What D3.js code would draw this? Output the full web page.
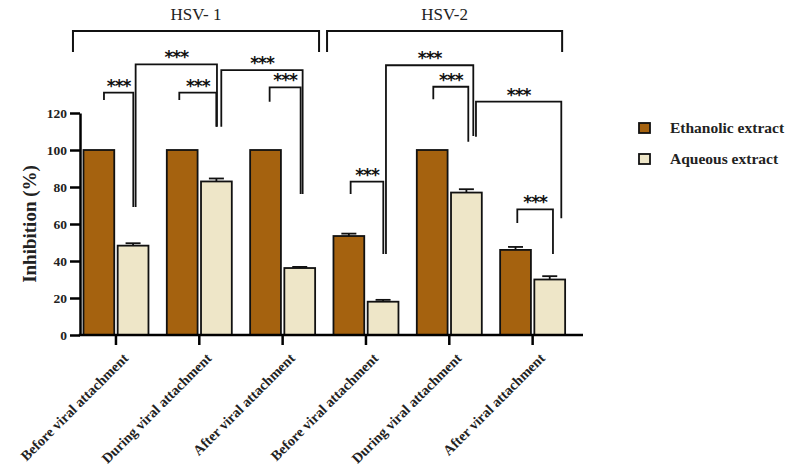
<!DOCTYPE html>
<html>
<head>
<meta charset="utf-8">
<script src="https://cdn.jsdelivr.net/npm/d3@7"></script>
<style>
  body { margin: 0; background: #fff; }
  svg { font-family: "Liberation Serif", "DejaVu Serif", serif; }
</style>
</head>
<body>
<svg id="chart"></svg>
<script>
// bar chart data: inhibition (%) per treatment stage
const categories = ["Before viral attachment", "During viral attachment", "After viral attachment",
                    "Before viral attachment", "During viral attachment", "After viral attachment"];
const series = ["Ethanolic extract", "Aqueous extract"];
const ethanolic = [100, 100, 100, 53.5, 100, 46];
const ethanolicErr = [0, 0, 0, 1.3, 0, 1.6];
const aqueous = [48.3, 83, 36.2, 18, 77, 30];
const aqueousErr = [1.3, 1.6, 0.6, 1.0, 1.8, 1.8];
const yTicks = [0, 20, 40, 60, 80, 100, 120];

// virus groups: bracket ends (in category units)
const groups = ["HSV- 1", "HSV-2"];
const groupFrom = [-0.516, 2.533];
const groupTo = [2.437, 5.354];

// significance brackets: x in category units, heights in % units
const sigLeft  = [-0.144, 0.236, 0.76, 1.264, 1.844, 2.816, 3.24, 3.808, 4.32, 4.816];
const sigRight = [0.208, 1.212, 1.204, 2.24, 2.216, 3.208, 4.288, 4.228, 5.344, 5.244];
const sigTop   = [131, 146.3, 131, 143.2, 133.9, 82.9, 145.8, 134.2, 126.1, 67.9];
const sigLeftEnd  = [127, 69.2, 127, 112.6, 126.1, 76.2, 43.8, 127.4, 107.2, 60.5];
const sigRightEnd = [69.2, 112.6, 112.6, 76.2, 76.2, 43.8, 107.6, 104.5, 63.1, 43.8];

const colors = { "Ethanolic extract": "#a5620f", "Aqueous extract": "#eee6c8" };

const svgWidth = 790, svgHeight = 471;
const svg = d3.select("#chart").attr("width", svgWidth).attr("height", svgHeight);

const x = d3.scaleBand()
    .domain(d3.range(categories.length))
    .range([74.3, 574.3]);

const xSub = d3.scaleBand()
    .domain(series)
    .range([-32.5, 32.5])
    .paddingInner(0.1);

const y = d3.scaleLinear()
    .domain([0, 120])
    .range([335, 113]);

// position in category units -> pixel
const xPos = (v) => x(0) + x.bandwidth() / 2 + v * x.step();

// y axis
const yAxis = svg.append("g")
    .attr("transform", "translate(80,0)")
    .call(d3.axisLeft(y).tickValues(yTicks).tickSize(10).tickSizeOuter(0).tickPadding(3));
yAxis.select(".domain").attr("stroke-width", 2.5);
yAxis.selectAll(".tick line").attr("stroke-width", 2.5);
yAxis.selectAll(".tick text")
    .attr("font-family", "Liberation Serif")
    .attr("font-size", 13.5)
    .attr("font-weight", "bold")
    .attr("fill", "#222");

svg.append("text")
    .attr("transform", "translate(36,224) rotate(-90)")
    .attr("text-anchor", "middle")
    .attr("font-size", 19)
    .attr("font-weight", "bold")
    .attr("fill", "#222")
    .text("Inhibition (%)");

// bars
const rows = categories.map((c, i) => ({
    i: i,
    vals: [
        { s: series[0], v: ethanolic[i], e: ethanolicErr[i] },
        { s: series[1], v: aqueous[i], e: aqueousErr[i] }
    ]
}));

const grp = svg.append("g").selectAll("g")
    .data(rows)
    .join("g")
    .attr("transform", d => "translate(" + (x(d.i) + x.bandwidth() / 2) + ",0)");

grp.selectAll("rect")
    .data(d => d.vals)
    .join("rect")
    .attr("x", d => xSub(d.s))
    .attr("width", xSub.bandwidth())
    .attr("y", d => y(d.v))
    .attr("height", d => y(0) - y(d.v))
    .attr("fill", d => colors[d.s])
    .attr("stroke", "#111")
    .attr("stroke-width", 1.8);

// error bars (upper only)
const err = grp.selectAll("g.err")
    .data(d => d.vals.filter(v => v.e > 0))
    .join("g")
    .attr("class", "err")
    .attr("stroke", "#111")
    .attr("stroke-width", 1.8);
err.append("line")
    .attr("x1", d => xSub(d.s) + xSub.bandwidth() / 2)
    .attr("x2", d => xSub(d.s) + xSub.bandwidth() / 2)
    .attr("y1", d => y(d.v))
    .attr("y2", d => y(d.v + d.e));
err.append("line")
    .attr("x1", d => xSub(d.s) + xSub.bandwidth() / 2 - 7.5)
    .attr("x2", d => xSub(d.s) + xSub.bandwidth() / 2 + 7.5)
    .attr("y1", d => y(d.v + d.e))
    .attr("y2", d => y(d.v + d.e));

// x axis
const xAxis = svg.append("g")
    .attr("transform", "translate(0," + y(0) + ")")
    .call(d3.axisBottom(x).tickSize(10).tickSizeOuter(0).tickFormat(i => categories[i]));
xAxis.select(".domain")
    .attr("d", "M78.8,0H583")
    .attr("stroke-width", 2.5);
xAxis.selectAll(".tick line").attr("stroke-width", 2.5);
xAxis.selectAll(".tick text")
    .attr("font-family", "Liberation Serif")
    .attr("font-size", 14.3)
    .attr("font-weight", "bold")
    .attr("fill", "#222")
    .attr("text-anchor", "end")
    .attr("dy", null)
    .attr("transform", "translate(4,15) rotate(-45)");

// significance brackets
const sig = svg.append("g").attr("fill", "none").attr("stroke", "#111").attr("stroke-width", 1.8);
sigLeft.forEach((l, k) => {
    const x1 = xPos(l), x2 = xPos(sigRight[k]);
    sig.append("path")
        .attr("d", d3.line()([[x1, y(sigLeftEnd[k])], [x1, y(sigTop[k])], [x2, y(sigTop[k])], [x2, y(sigRightEnd[k])]]));
    svg.append("text")
        .attr("x", (x1 + x2) / 2)
        .attr("y", y(sigTop[k]) - 1)
        .attr("text-anchor", "middle")
        .attr("font-family", "DejaVu Sans")
        .attr("font-size", 17)
        .attr("font-weight", "bold")
        .attr("letter-spacing", -1)
        .attr("fill", "#111")
        .text("***");
});

// virus group brackets
groups.forEach((g, k) => {
    const x1 = xPos(groupFrom[k]), x2 = xPos(groupTo[k]);
    svg.append("path")
        .attr("fill", "none")
        .attr("stroke", "#111")
        .attr("stroke-width", 2)
        .attr("d", d3.line()([[x1, y(153)], [x1, y(164.3)], [x2, y(164.3)], [x2, y(153)]]));
    svg.append("text")
        .attr("x", (x1 + x2) / 2)
        .attr("y", 20)
        .attr("text-anchor", "middle")
        .attr("font-size", 17)
        .attr("fill", "#222")
        .text(g);
});

// legend
const legend = svg.append("g").attr("transform", "translate(639,123)");
const item = legend.selectAll("g")
    .data(series)
    .join("g")
    .attr("transform", (d, i) => "translate(0," + i * 31 + ")");
item.append("rect")
    .attr("width", 11).attr("height", 10)
    .attr("fill", d => colors[d])
    .attr("stroke", "#111")
    .attr("stroke-width", 1.8);
item.append("text")
    .attr("x", 31)
    .attr("y", 10)
    .attr("font-size", 15.5)
    .attr("font-weight", "bold")
    .attr("fill", "#222")
    .text(d => d);
</script>
</body>
</html>
